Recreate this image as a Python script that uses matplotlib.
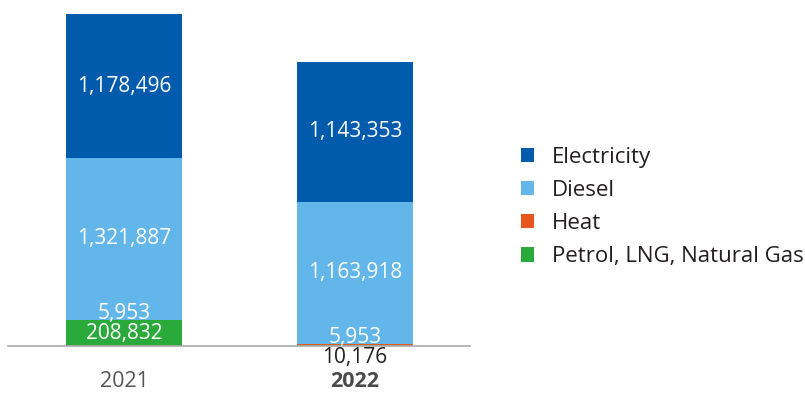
import matplotlib
matplotlib.use("Agg")
import matplotlib.pyplot as plt
from matplotlib.patches import Patch

plt.rcParams['font.family'] = ['Open Sans', 'DejaVu Sans']

years = ["2021", "2022"]
series = ["Petrol, LNG, Natural Gas", "Heat", "Diesel", "Electricity"]
petrol = [208832, 10176]
heat = [5953, 5953]
diesel = [1321887, 1163918]
electricity = [1178496, 1143353]
values = [petrol, heat, diesel, electricity]
colors = ["#2AAA3A", "#E9561B", "#62B6EA", "#005BAC"]

fig = plt.figure(figsize=(8.05, 3.93), dpi=100)
ax = fig.add_axes([8/805, 47/393, 462/805, 332/393])

x = list(range(len(years)))
bottoms = [0] * len(years)
for vals, col in zip(values, colors):
    ax.bar(x, vals, width=0.502, bottom=bottoms, color=col, linewidth=0)
    bottoms = [b + v for b, v in zip(bottoms, vals)]

# labels
fs = 15
for i in x:
    p = petrol[i]
    if p > 50000:
        ax.text(i, p / 2, f"{p:,}", ha='center', va='center', color='white', fontsize=fs)
    else:
        ax.annotate(f"{p:,}", (i, 0), xytext=(0, -1), textcoords='offset points',
                    ha='center', va='top', color='#231F20', fontsize=fs)
    h_top = p + heat[i]
    ax.annotate(f"{heat[i]:,}", (i, h_top), xytext=(0, -3), textcoords='offset points',
                ha='center', va='bottom', color='white', fontsize=fs)
    d_mid = h_top + diesel[i] / 2
    ax.text(i, d_mid, f"{diesel[i]:,}", ha='center', va='center', color='white', fontsize=fs)
    e_mid = h_top + diesel[i] + electricity[i] / 2
    ax.text(i, e_mid, f"{electricity[i]:,}", ha='center', va='center', color='white', fontsize=fs)

ax.set_xlim(-0.502, 1.498)
ax.set_ylim(0, sum(v[0] for v in values))
for s in ['top', 'right', 'left']:
    ax.spines[s].set_visible(False)
ax.spines['bottom'].set_color('#AAAAAA')
ax.spines['bottom'].set_linewidth(1.2)
ax.set_yticks([])
ax.set_xticks(x)
ax.set_xticklabels(years, fontsize=15.5, color='#555555')
ax.tick_params(axis='x', length=0, pad=18)
ax.get_xticklabels()[1].set_fontweight('bold')
ax.get_xticklabels()[1].set_color('#4A4A4A')

handles = [Patch(facecolor=c, edgecolor='none') for c in reversed(colors)]
labels = list(reversed(series))
fig.legend(handles, labels, loc='center left', bbox_to_anchor=(521/805, 1 - 207/393),
           frameon=False, fontsize=16, handlelength=0.6, handleheight=0.6,
           handletextpad=0.8, labelspacing=0.55, labelcolor='#231F20',
           borderpad=0, borderaxespad=0)

fig.savefig("out.png", dpi=100)
